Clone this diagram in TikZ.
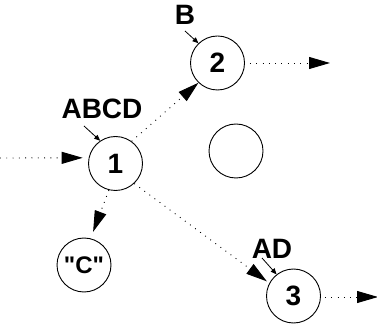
\documentclass[tikz,border=0pt]{standalone}
\usepackage{fontspec}
\setmainfont{Liberation Sans}
% a family without the TeX mapping keeps the straight double quote
\newfontfamily\plainsans{Liberation Sans}
\usetikzlibrary{arrows.meta}
\begin{document}
\begin{tikzpicture}[x=1pt,y=-1pt,
  state/.style={circle,draw,line width=0.9pt,minimum size=54pt,inner sep=0pt,
    font=\fontsize{28}{28}\selectfont\bfseries},
  tag/.style={inner sep=0pt,font=\fontsize{28}{28}\selectfont\bfseries},
  flow/.style={line width=0.9pt,dash pattern=on 0.9pt off 5.4pt,
    -{Triangle[length=21pt,width=12pt]}},
  pointer/.style={line width=0.8pt,-{Triangle[length=6pt,width=5pt]}}]
\useasboundingbox (0,0) rectangle (377,328);

% states
\node[state] (n1) at (115.5,163.5) {1};
\node[state] (n2) at (217.5,63) {2};
\node[state] (n0) at (236,151) {};
\node[state,font=\plainsans\fontsize{24}{24}\selectfont\bfseries] (nc) at (84,265) {"C"};
\node[state] (n3) at (293.5,296) {3};

% labels attached to states
\node[tag] (lB) at (185,15) {B};
\node[tag] (lABCD) at (102,109) {ABCD};
\node[tag] (lAD) at (272,248.5) {AD};

% free ends
\coordinate (src) at (0,158);
\coordinate (out2) at (330,63);
\coordinate (out3) at (378,297);
\coordinate (tB) at (185,31);
\coordinate (tABCD) at (84,126);
\coordinate (tAD) at (262,258);

% transitions
\draw[flow,shorten >=6pt] (src) -- (n1.168);
\draw[flow] (n1.54) -- (n2.226);
\draw[flow,shorten >=7pt] (n1.256) -- (nc.76);
\draw[flow,shorten >=3pt] (n1.-47) -- (n3.152);
\draw[flow,shorten <=5pt] (n2.east) -- (out2);
\draw[flow,shorten <=4pt] (n3.east |- out3) -- (out3);

% label pointers
\draw[pointer] (tB) -- (n2.134);
\draw[pointer] (tABCD) -- (n1.124);
\draw[pointer] (tAD) -- (n3.128);
\end{tikzpicture}
\end{document}
